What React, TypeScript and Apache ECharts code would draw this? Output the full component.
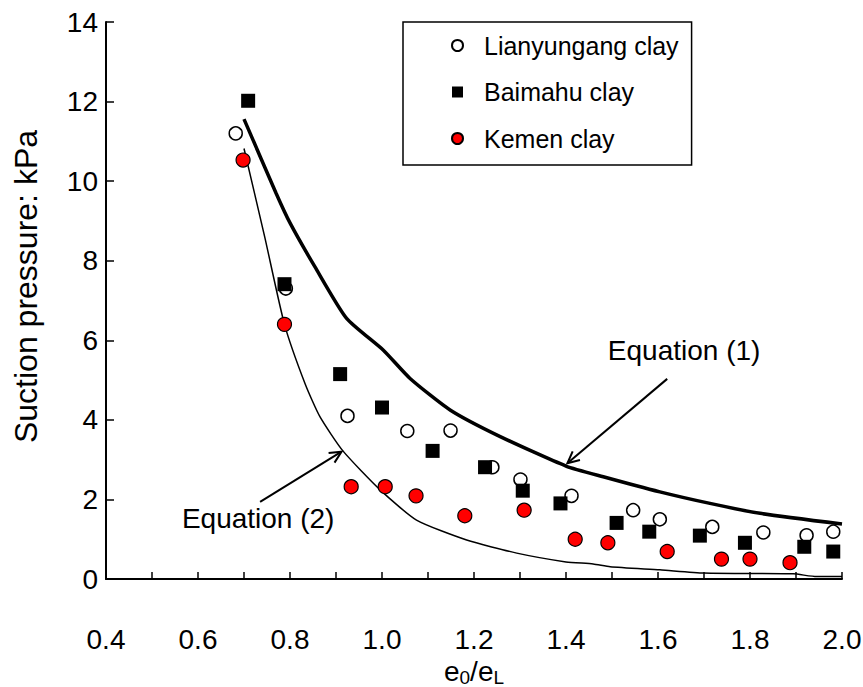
import React, { useEffect, useRef } from "react";
import * as echarts from "echarts";

const lianyungang: [number, number][] = [
  [0.682, 11.2], [0.791, 7.3], [0.925, 4.1], [1.055, 3.72], [1.149, 3.73],
  [1.24, 2.81], [1.301, 2.5], [1.412, 2.09], [1.546, 1.73], [1.604, 1.5],
  [1.718, 1.31], [1.829, 1.17], [1.923, 1.1], [1.981, 1.19],
];
const baimahu: [number, number][] = [
  [0.709, 12.02], [0.788, 7.41], [0.909, 5.15], [1.0, 4.31], [1.11, 3.22],
  [1.224, 2.81], [1.306, 2.22], [1.388, 1.9], [1.51, 1.41], [1.581, 1.19],
  [1.691, 1.09], [1.789, 0.91], [1.918, 0.81], [1.981, 0.69],
];
const kemen: [number, number][] = [
  [0.698, 10.53], [0.788, 6.4], [0.933, 2.32], [1.007, 2.32], [1.074, 2.09],
  [1.18, 1.59], [1.309, 1.73], [1.42, 1.0], [1.491, 0.91], [1.62, 0.69],
  [1.738, 0.5], [1.8, 0.5], [1.887, 0.41],
];
const equation1: [number, number][] = [
  [0.7, 11.56], [0.77, 9.69], [0.8, 8.95], [0.854, 7.85], [0.923, 6.55],
  [1.003, 5.75], [1.061, 5.04], [1.148, 4.25], [1.257, 3.58], [1.4, 2.84],
  [1.481, 2.57], [1.604, 2.19], [1.713, 1.9], [1.822, 1.65], [2.0, 1.38],
];
const equation2: [number, number][] = [
  [0.7, 10.82], [0.745, 8.6], [0.788, 6.4], [0.833, 4.9], [0.865, 4.08],
  [0.915, 3.22], [0.996, 2.24], [1.075, 1.48], [1.184, 0.98], [1.293, 0.65],
  [1.4, 0.43], [1.459, 0.38], [1.496, 0.31], [1.604, 0.23], [1.7, 0.15],
  [1.785, 0.14], [1.894, 0.13], [1.945, 0.06], [2.0, 0.06],
];
const seriesNames = ["Lianyungang clay", "Baimahu clay", "Kemen clay"];
const legendIcons = ["circle", "rect", "circle"];
const xLabelValues = [0.4, 0.6, 0.8, 1.0, 1.2, 1.4, 1.6, 1.8, 2.0];
const yLabelValues = [0, 2, 4, 6, 8, 10, 12, 14];

// annotation anchors in data coordinates
const eq1Label = { text: "Equation (1)", x: 1.491, y: 5.75 };
const eq1Arrow: [number, number][] = [[1.62, 5.03], [1.403, 2.91]];
const eq2Label = { text: "Equation (2)", x: 0.565, y: 1.51 };
const eq2Arrow: [number, number][] = [[0.735, 1.94], [0.912, 3.2]];

const FONT = "'Liberation Sans', Arial, sans-serif";

export default function App() {
  const ref = useRef<HTMLDivElement>(null);
  useEffect(() => {
    document.body.style.margin = "0";
    const chart = echarts.init(ref.current!, null, { renderer: "svg" });
    const option: any = {
      animation: false,
      backgroundColor: "#fff",
      grid: { left: 106, right: 21, top: 22, bottom: 108, containLabel: false, outerBoundsMode: "none" },
      legend: {
        orient: "vertical",
        left: 403,
        top: 22,
        padding: [9, 13, 12, 48],
        itemWidth: 11,
        itemHeight: 11,
        itemGap: 17.5,
        borderColor: "#000",
        borderWidth: 1.5,
        borderRadius: 0,
        backgroundColor: "#fff",
        textStyle: { fontSize: 25, fontFamily: FONT, color: "#000", lineHeight: 29, padding: [0, 0, 0, 16] },
        data: seriesNames.map((n, i) => ({ name: n, icon: legendIcons[i] })),
      },
      xAxis: {
        type: "value",
        min: 0.4,
        max: 2.0,
        interval: 0.1,
        name: "{e|e}{s|0}{e|/e}{s|L}",
        nameLocation: "middle",
        nameGap: 66,
        nameTextStyle: {
          rich: {
            e: { fontSize: 28, fontFamily: FONT, color: "#000" },
            s: { fontSize: 19, fontFamily: FONT, color: "#000", verticalAlign: "bottom", padding: [12, 0, 0, 0] },
          },
        },
        axisLine: { lineStyle: { color: "#000", width: 2 } },
        axisTick: { inside: true, length: 7, lineStyle: { color: "#000", width: 1.5 } },
        axisLabel: {
          margin: 46,
          fontSize: 28,
          fontFamily: FONT,
          color: "#000",
          formatter: (v: number) => {
            const hit = xLabelValues.find((t) => Math.abs(t - v) < 1e-6);
            return hit === undefined ? "" : hit.toFixed(1);
          },
        },
        splitLine: { show: false },
      },
      yAxis: {
        type: "value",
        min: 0,
        max: 14,
        interval: 2,
        name: "Suction pressure: kPa",
        nameLocation: "middle",
        nameGap: 64,
        nameTextStyle: { fontSize: 32, fontFamily: FONT, color: "#000", padding: [0, 0, 0, 28] },
        axisLine: { show: true, lineStyle: { color: "#000", width: 2 } },
        axisTick: { show: true, inside: true, length: 8, lineStyle: { color: "#000", width: 1.5 } },
        axisLabel: {
          margin: 8,
          fontSize: 28,
          fontFamily: FONT,
          color: "#000",
          formatter: (v: number) => (yLabelValues.includes(Math.round(v)) ? String(Math.round(v)) : ""),
        },
        splitLine: { show: false },
      },
      series: [
        {
          name: "Equation (1)",
          type: "line",
          data: equation1,
          smooth: 0.2,
          showSymbol: false,
          lineStyle: { color: "#000", width: 3.5 },
          z: 1,
        },
        {
          name: "Equation (2)",
          type: "line",
          data: equation2,
          smooth: 0.2,
          showSymbol: false,
          lineStyle: { color: "#000", width: 1.5 },
          z: 1,
        },
        {
          name: seriesNames[0],
          type: "scatter",
          data: lianyungang,
          symbol: "circle",
          symbolSize: 13,
          itemStyle: { color: "#fff", borderColor: "#000", borderWidth: 1.5, opacity: 1 },
          z: 2,
        },
        {
          name: seriesNames[2],
          type: "scatter",
          data: kemen,
          symbol: "circle",
          symbolSize: 14,
          itemStyle: { color: "#ff0000", borderColor: "#000", borderWidth: 1.2, opacity: 1 },
          z: 3,
        },
        {
          name: seriesNames[1],
          type: "scatter",
          data: baimahu,
          symbol: "rect",
          symbolSize: 14,
          itemStyle: { color: "#000", opacity: 1 },
          z: 4,
        },
      ],
    };
    chart.setOption(option);

    const px = (p: [number, number]) => chart.convertToPixel({ gridIndex: 0 }, p) as number[];
    const arrow = (a: [number, number][]) => {
      const s = px(a[0]);
      const e = px(a[1]);
      const ang = Math.atan2(e[1] - s[1], e[0] - s[0]);
      const L = 13;
      const spread = 0.45;
      const l1 = [e[0] - L * Math.cos(ang - spread), e[1] - L * Math.sin(ang - spread)];
      const l2 = [e[0] - L * Math.cos(ang + spread), e[1] - L * Math.sin(ang + spread)];
      return [
        { type: "line", shape: { x1: s[0], y1: s[1], x2: e[0], y2: e[1] }, style: { stroke: "#000", lineWidth: 2 }, z: 10 },
        { type: "polyline", shape: { points: [l1, e, l2] }, style: { stroke: "#000", lineWidth: 2, fill: null }, z: 10 },
      ];
    };
    const label = (l: { text: string; x: number; y: number }) => {
      const p = px([l.x, l.y]);
      return {
        type: "text",
        x: p[0],
        y: p[1],
        style: { text: l.text, fontSize: 28, fontFamily: FONT, fill: "#000", verticalAlign: "middle", align: "left" },
        z: 10,
      };
    };
    chart.setOption({
      graphic: [...arrow(eq1Arrow), ...arrow(eq2Arrow), label(eq1Label), label(eq2Label)],
    });
    return () => chart.dispose();
  }, []);
  return <div ref={ref} style={{ width: 863, height: 687 }} />;
}
